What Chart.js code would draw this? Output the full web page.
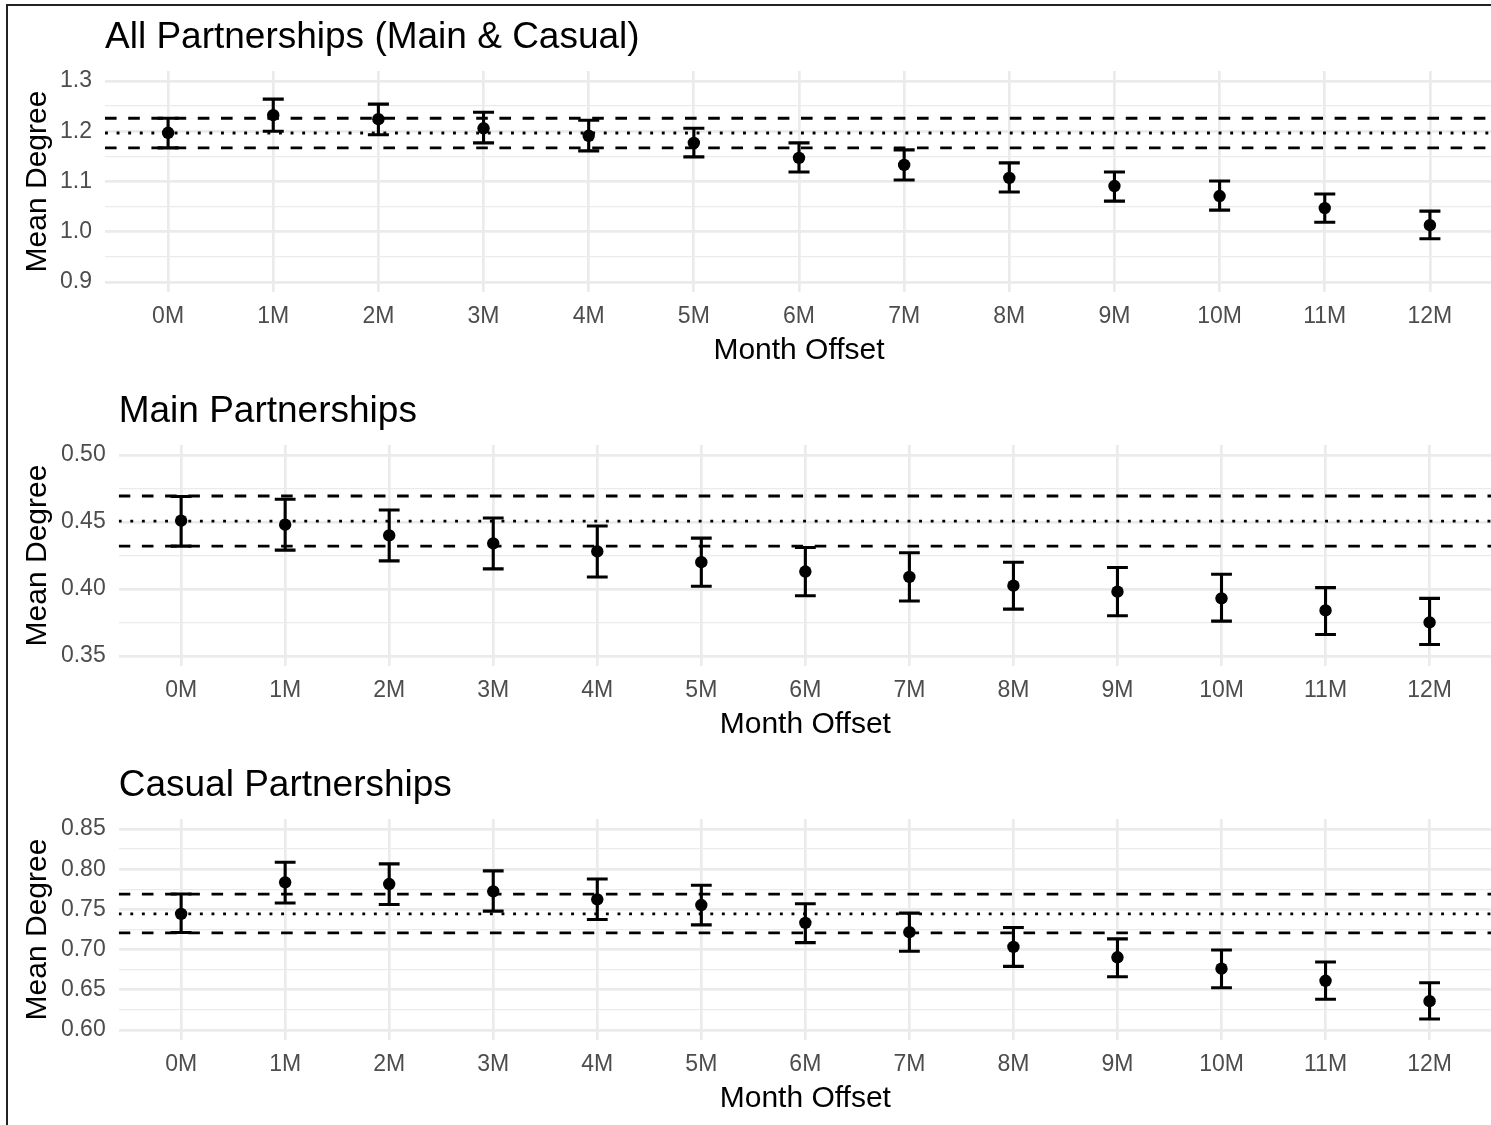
<!DOCTYPE html>
<html>
<head>
<meta charset="utf-8">
<script src="https://cdn.jsdelivr.net/npm/chart.js@4.4.1/dist/chart.umd.min.js"></script>
<style>
  html, body { margin:0; padding:0; background:#fff; overflow:hidden; }
  body { width:1491px; height:1125px; position:relative; }
  .frame { position:absolute; left:6px; top:4px; width:1600px; height:1200px; border-left:2px solid #222; border-top:2px solid #222; }
  canvas { position:absolute; left:0; }
</style>
</head>
<body>
<div class="frame"></div>
<canvas id="allChart" width="1500" height="374" style="top:0;width:1500px;height:374px;"></canvas>
<canvas id="mainChart" width="1500" height="374" style="top:374px;width:1500px;height:374px;"></canvas>
<canvas id="casualChart" width="1500" height="374" style="top:748px;width:1500px;height:374px;"></canvas>
<script>
const months = ['0M','1M','2M','3M','4M','5M','6M','7M','8M','9M','10M','11M','12M'];

// All partnerships
const allMean = [1.197, 1.232, 1.224, 1.206, 1.191, 1.177, 1.147, 1.133, 1.107, 1.091, 1.071, 1.047, 1.013];
const allLow  = [1.167, 1.200, 1.193, 1.177, 1.161, 1.149, 1.119, 1.103, 1.079, 1.061, 1.043, 1.019, 0.986];
const allHigh = [1.226, 1.264, 1.254, 1.238, 1.222, 1.206, 1.177, 1.163, 1.137, 1.119, 1.101, 1.075, 1.041];
const allRef  = [1.167, 1.1965, 1.226];           // lower, target, upper
const allYTicks  = [0.9, 1.0, 1.1, 1.2, 1.3];
const allYLabels = ['0.9', '1.0', '1.1', '1.2', '1.3'];
const allYMinor  = [0.95, 1.05, 1.15, 1.25];
const allYRange  = [0.88, 1.32];

// Main partnerships
const mainMean = [0.451, 0.448, 0.440, 0.434, 0.428, 0.420, 0.413, 0.409, 0.4025, 0.398, 0.393, 0.384, 0.375];
const mainLow  = [0.432, 0.429, 0.421, 0.415, 0.409, 0.402, 0.395, 0.391, 0.385, 0.380, 0.376, 0.366, 0.3585];
const mainHigh = [0.469, 0.467, 0.459, 0.453, 0.447, 0.438, 0.431, 0.427, 0.420, 0.416, 0.411, 0.401, 0.393];
const mainRef  = [0.432, 0.4507, 0.4694];
const mainYTicks  = [0.35, 0.40, 0.45, 0.50];
const mainYLabels = ['0.35', '0.40', '0.45', '0.50'];
const mainYMinor  = [0.375, 0.425, 0.475];
const mainYRange  = [0.3425, 0.5075];

// Casual partnerships
const casMean = [0.7445, 0.7837, 0.7816, 0.7725, 0.7625, 0.7554, 0.7333, 0.7216, 0.7033, 0.6904, 0.6762, 0.6612, 0.6358];
const casLow  = [0.7212, 0.7579, 0.7562, 0.7479, 0.7375, 0.7308, 0.7087, 0.6979, 0.6791, 0.6662, 0.6525, 0.6383, 0.6137];
const casHigh = [0.7691, 0.8087, 0.8066, 0.7979, 0.7879, 0.7800, 0.7570, 0.7454, 0.7275, 0.7133, 0.6995, 0.6845, 0.6587];
const casRef  = [0.7208, 0.7445, 0.769];
const casYTicks  = [0.60, 0.65, 0.70, 0.75, 0.80, 0.85];
const casYLabels = ['0.60', '0.65', '0.70', '0.75', '0.80', '0.85'];
const casYMinor  = [0.625, 0.675, 0.725, 0.775, 0.825];
const casYRange  = [0.5875, 0.8625];

Chart.defaults.font.family = "'Liberation Sans', Arial, sans-serif";
const GRID = '#EBEBEB';
const CANVAS_W = 1500;
const xMin = -0.6, xMax = months.length - 1 + 0.6;

const errorBars = {
  id: 'errorBars',
  beforeDatasetsDraw(chart, args, opts) {
    const {ctx, scales: {x, y}} = chart;
    ctx.save();
    ctx.strokeStyle = '#000';
    ctx.lineWidth = 3.1;
    opts.low.forEach((lo, i) => {
      const px = x.getPixelForValue(i);
      const x0 = x.getPixelForValue(i - 0.1), x1 = x.getPixelForValue(i + 0.1);
      const yLo = y.getPixelForValue(lo), yHi = y.getPixelForValue(opts.high[i]);
      ctx.beginPath();
      ctx.moveTo(px, yLo); ctx.lineTo(px, yHi);
      ctx.moveTo(x0, yLo); ctx.lineTo(x1, yLo);
      ctx.moveTo(x0, yHi); ctx.lineTo(x1, yHi);
      ctx.stroke();
    });
    ctx.restore();
  }
};

function refLine(v, dash) {
  return {
    data: [{x: xMin, y: v}, {x: xMax, y: v}],
    showLine: true, borderColor: '#000', borderWidth: 2.9, borderDash: dash,
    borderCapStyle: 'butt', pointRadius: 0, pointHoverRadius: 0
  };
}

function makePanel(id, title, mean, low, high, ref, yRange, yTicks, yLabels, yMinor, left, right) {
  new Chart(document.getElementById(id), {
    type: 'scatter',
    data: {
      datasets: [
        {data: mean.map((v, i) => ({x: i, y: v})), pointRadius: 6.2, pointBackgroundColor: '#000', pointBorderWidth: 0},
        refLine(ref[1], [2.9, 8.7]),
        refLine(ref[0], [11.6, 11.6]),
        refLine(ref[2], [11.6, 11.6]),
      ]
    },
    options: {
      responsive: false, animation: false,
      layout: {padding: {left: 0, right: CANVAS_W - right - 3, top: 0, bottom: 0}},
      plugins: {
        legend: {display: false}, tooltip: {enabled: false},
        title: {display: true, text: title, align: 'start', fullSize: false, color: '#000',
                font: {size: 37, weight: 'normal', lineHeight: 1}, padding: {top: 19, bottom: 15}},
        errorBars: {low, high}
      },
      scales: {
        x: {
          min: xMin, max: xMax,
          afterBuildTicks: s => { s.ticks = months.map((m, i) => ({value: i})); },
          afterFit: s => { s.height = 82; s.paddingLeft = 0; s.paddingRight = 0; },
          ticks: {callback: v => months[v], autoSkip: false, maxRotation: 0, color: '#4D4D4D',
                  font: {size: 23, lineHeight: 1}, padding: 13},
          grid: {color: GRID, lineWidth: 2.7, drawTicks: false},
          border: {display: false},
          title: {display: true, text: 'Month Offset', color: '#000', font: {size: 30, lineHeight: 1},
                  padding: {top: 0, bottom: 8}}
        },
        y: {
          min: yRange[0], max: yRange[1],
          afterBuildTicks: s => {
            s.ticks = yTicks.concat(yMinor).sort((a, b) => a - b).map(v => ({value: v}));
          },
          afterFit: s => { s.width = left; s.paddingTop = 0; s.paddingBottom = 0; },
          ticks: {callback: v => { const k = yTicks.indexOf(v); return k >= 0 ? yLabels[k] : ''; },
                  autoSkip: false, color: '#4D4D4D', font: {size: 23, lineHeight: 1}, padding: 13},
          grid: {color: GRID, drawTicks: false,
                 lineWidth: c => (c.tick && yTicks.includes(c.tick.value)) ? 2.7 : 1.35},
          border: {display: false},
          title: {display: true, text: 'Mean Degree', color: '#000', font: {size: 30, lineHeight: 1},
                  padding: {top: 22.5, bottom: 0}}
        }
      }
    },
    plugins: [errorBars]
  });
}

makePanel('allChart', 'All Partnerships (Main & Casual)', allMean, allLow, allHigh, allRef,
          allYRange, allYTicks, allYLabels, allYMinor, 105, 1490);
makePanel('mainChart', 'Main Partnerships', mainMean, mainLow, mainHigh, mainRef,
          mainYRange, mainYTicks, mainYLabels, mainYMinor, 118.7, 1489);
makePanel('casualChart', 'Casual Partnerships', casMean, casLow, casHigh, casRef,
          casYRange, casYTicks, casYLabels, casYMinor, 118.7, 1489);
</script>
</body>
</html>
